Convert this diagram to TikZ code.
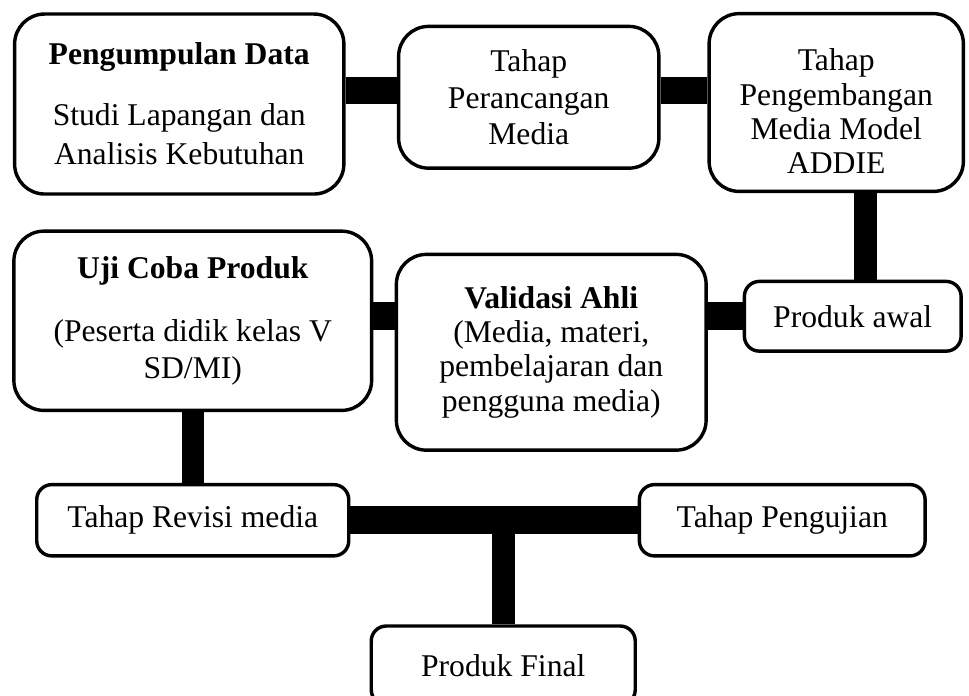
\documentclass[tikz,border=0pt]{standalone}
\usepackage{fontspec}
\setmainfont{Liberation Serif}
\usepackage{tikz}
\usetikzlibrary{positioning}
\tikzset{
    stage/.style={rectangle, rounded corners=0.4cm, draw, line width=1.3pt, fill=white, align=center, inner sep=2pt},
    smallstage/.style={rectangle, rounded corners=0.2cm, draw, line width=1.3pt, fill=white, align=center, inner sep=2pt, minimum height=0.95cm},
    hbar/.style={line width=0.37cm},
    vbar/.style={line width=0.30cm}
}

\begin{document}
\begin{tikzpicture}[font=\fontsize{12}{14}\selectfont]
    \useasboundingbox (0,0) rectangle (12.92,9.267);
    % Stages
    \node[stage, minimum width=4.39cm, minimum height=2.40cm, font=\fontsize{12}{15}\selectfont] (data) at (2.39,7.88) {\textbf{Pengumpulan Data}\\[8pt]Studi Lapangan dan\\Analisis Kebutuhan};
    \node[stage, minimum width=3.47cm, minimum height=1.89cm] (design) at (7.05,7.97) {Tahap\\Perancangan\\Media};
    \node[stage, minimum width=3.39cm, minimum height=2.37cm, font=\fontsize{12}{13}\selectfont] (develop) at (11.15,7.90) {\rule{0pt}{15pt}Tahap\\Pengembangan\\Media Model\\ADDIE};
    \node[smallstage, minimum width=2.89cm, minimum height=0.93cm] (draft) at (11.37,5.05) {Produk awal};
    \node[stage, minimum width=4.13cm, minimum height=2.61cm, font=\fontsize{12}{13}\selectfont] (expert) at (7.35,4.57) {\textbf{Validasi Ahli}\\(Media, materi,\\pembelajaran dan\\pengguna media)};
    \node[stage, minimum width=4.77cm, minimum height=2.39cm] (trial) at (2.57,4.99) {\textbf{Uji Coba Produk}\\[10pt](Peserta didik kelas V\\SD/MI)};
    \node[smallstage, minimum width=4.16cm] (revise) at (2.57,2.33) {Tahap Revisi media};
    \node[smallstage, minimum width=3.81cm] (test) at (10.43,2.33) {Tahap Pengujian};
    \node[smallstage, minimum width=3.52cm, minimum height=1.05cm] (final) at (6.71,0.395) {Produk Final};

    % Links
    \coordinate (top) at ([yshift=0.09cm]design.west);
    \coordinate (drop) at ([xshift=0.17cm]draft.north);
    \draw[hbar] (data.east |- top) -- (top);
    \draw[hbar] (top -| design.east) -- (top -| develop.west);
    \draw[vbar] (develop.south -| drop) -- (drop);
    \draw[hbar] (draft.west) -- (draft.west -| expert.east);
    \draw[hbar] (draft.west -| expert.west) -- (draft.west -| trial.east);
    \draw[vbar] (trial.south) -- (revise.north);
    \draw[hbar] (revise.east) -- (test.west);
    \draw[vbar] (final.north) -- (final.north |- revise.east);
\end{tikzpicture}
\end{document}
